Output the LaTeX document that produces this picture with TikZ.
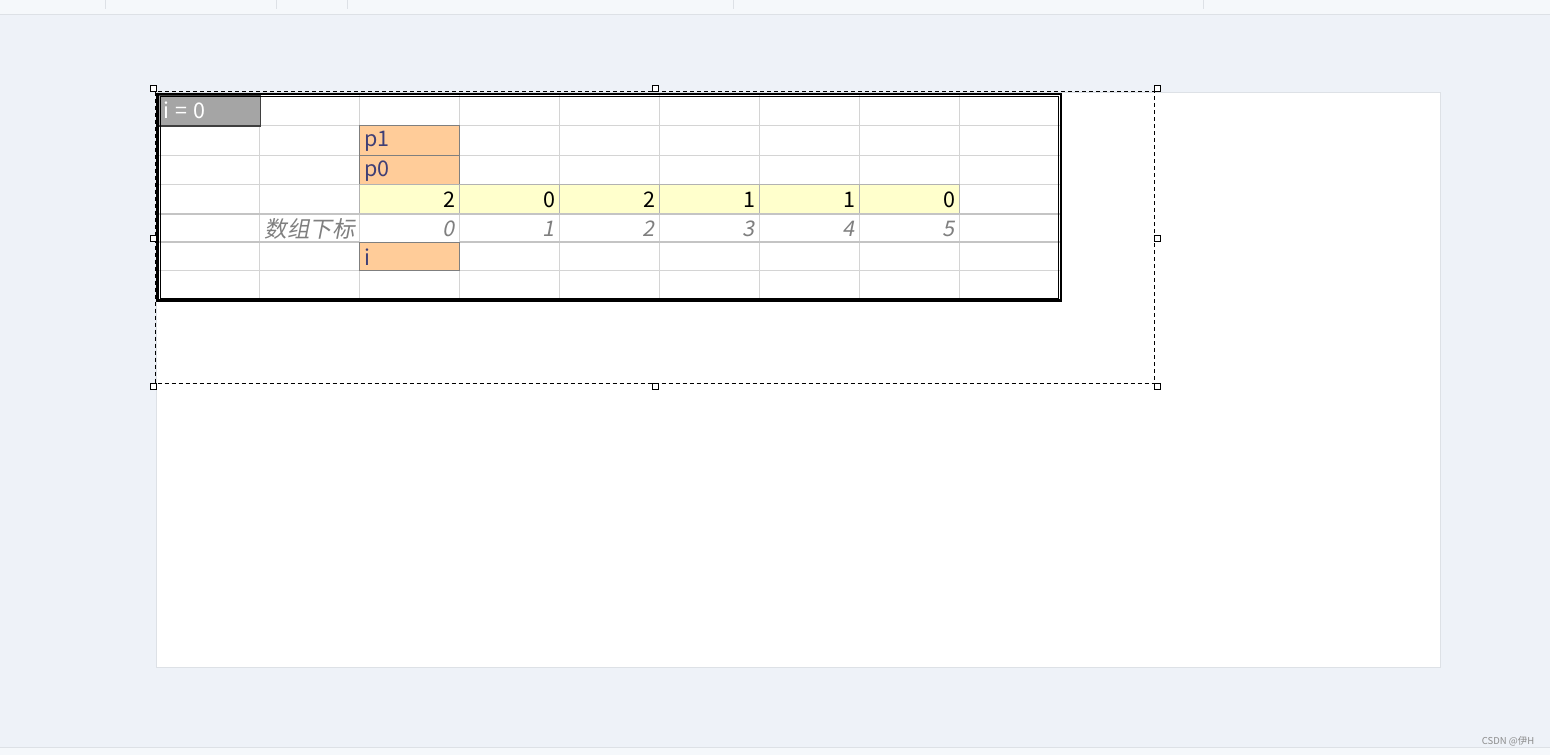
\documentclass[tikz,border=0pt]{standalone}
\usepackage{fontspec}
\newfontfamily\cjk{Noto Sans CJK SC}
\newfontfamily\cjki[FakeSlant=0.2]{Noto Sans CJK SC}
\definecolor{bgc}{HTML}{EEF2F8}
\definecolor{topc}{HTML}{F5F8FB}
\definecolor{sepc}{HTML}{DDE1E6}
\definecolor{gridc}{HTML}{D4D4D4}
\definecolor{orangec}{HTML}{FFCC99}
\definecolor{orangeb}{HTML}{7F7F7F}
\definecolor{inputtxt}{HTML}{3F3F76}
\definecolor{yellowc}{HTML}{FFFFCC}
\definecolor{yellowb}{HTML}{B2B2B2}
\definecolor{graycell}{HTML}{A5A5A5}
\definecolor{graycellb}{HTML}{3F3F3F}
\definecolor{idxc}{HTML}{7F7F7F}
\definecolor{idxline}{HTML}{C4C4C4}
\tikzset{
  cellfont/.style={font=\cjk\fontsize{21.5}{24}\selectfont, inner sep=0pt},
  numtxt/.style={cellfont, anchor=east, text=black},
  inputlbl/.style={cellfont, anchor=west, text=inputtxt},
  idxtxt/.style={font=\cjki\fontsize{21.5}{24}\selectfont, inner sep=0pt, anchor=east, text=idxc},
  handle/.style={draw=black, fill=white, line width=0.8pt, minimum size=6pt, inner sep=0pt, shape=rectangle},
}
\begin{document}
\begin{tikzpicture}[x=1pt,y=-1pt]
\useasboundingbox (0,0) rectangle (1550,755);
% background
\fill[bgc] (0,0) rectangle (1550,755);
\fill[topc] (0,0) rectangle (1550,14);
\draw[sepc] (0,14.5) -- (1550,14.5);
\foreach \x in {105,276,347,733,1203} \draw[sepc,line width=0.6pt] (\x,0) -- (\x,9);
\fill[topc] (0,747) rectangle (1550,755);
\draw[sepc] (0,747) -- (1550,747);
% slide
\draw[sepc,fill=white] (156.5,92.5) rectangle (1440.5,667.5);
% grid
\foreach \x in {259,359,459,559,659,759,859,959}
  \draw[gridc,line width=1pt] (\x,94) -- (\x,299);
\foreach \y in {125,155,184,270}
  \draw[gridc,line width=1pt] (158,\y) -- (1060,\y);
% orange cells
\draw[orangeb,fill=orangec] (359.5,125.5) rectangle (459.5,155.5);
\draw[orangeb,fill=orangec] (359.5,155.5) rectangle (459.5,184.5);
\draw[orangeb,fill=orangec] (359.5,242.5) rectangle (459.5,270.5);
% yellow cells
\foreach \x in {359,459,559,659,759,859}
  \draw[yellowb,fill=yellowc] (\x+0.5,184.5) rectangle (\x+100.5,213);
% index row lines
\draw[idxline,line width=2pt] (158,213.5) -- (1060,213.5);
\draw[idxline,line width=2pt] (158,242) -- (359,242);
\draw[idxline,line width=2pt] (459.5,242) -- (1060,242);
% gray cell
\draw[graycellb,fill=graycell,line width=1.5pt] (158.5,95.5) rectangle (260.5,126);
\node[cellfont, anchor=west, text=white] (ilabel) at (163,110.5) {i\hspace{6pt}=\hspace{6pt}0};
% input labels
\node[inputlbl] (p1) at (364,141) {p1};
\node[inputlbl] (p0) at (364,171) {p0};
\node[inputlbl] (iv) at (364,257) {i};
% numbers
\node[numtxt] (n0) at (456,199.5) {2};
\node[numtxt] (n1) at (556,199.5) {0};
\node[numtxt] (n2) at (656,199.5) {2};
\node[numtxt] (n3) at (756,199.5) {1};
\node[numtxt] (n4) at (856,199.5) {1};
\node[numtxt] (n5) at (956,199.5) {0};
% indices
\node[idxtxt, font=\cjki\fontsize{22.5}{25}\selectfont] (lbl) at (355,229) {数组下标};
\node[idxtxt] (k0) at (455,229) {0};
\node[idxtxt] (k1) at (555,229) {1};
\node[idxtxt] (k2) at (655,229) {2};
\node[idxtxt] (k3) at (755,229) {3};
\node[idxtxt] (k4) at (855,229) {4};
\node[idxtxt] (k5) at (955,229) {5};
% double outer border
\draw[black,line width=2.5pt] (157.5,94) rectangle (1061,300.5);
\draw[black,line width=0.8pt] (160,96.5) rectangle (1058.5,298);
% dashed selection
\draw[black,line width=0.9pt,dash pattern=on 4pt off 3pt] (155.5,91.5) rectangle (1154.5,383.5);
\foreach \hx/\hy/\hn in {153/88/h1,655/88/h2,1157/88/h3,153/238/h4,1157/238/h5,153/386/h6,655/386/h7,1157/386/h8}
  \node[handle] (\hn) at (\hx,\hy) {};
% watermark
\node[font=\cjk\fontsize{9.5}{11}\selectfont, text=black!45, inner sep=0pt] (wm) at (1508,741) {CSDN @伊H};
\end{tikzpicture}
\end{document}
